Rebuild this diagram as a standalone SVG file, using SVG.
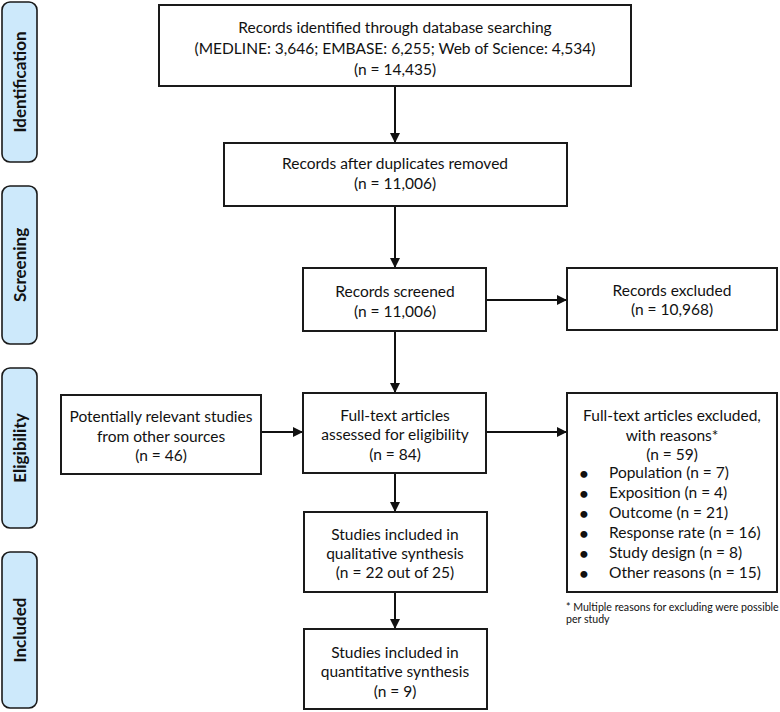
<svg xmlns="http://www.w3.org/2000/svg" width="780" height="712" viewBox="0 0 780 712">
<style>
.box{fill:#ffffff;stroke:#1a1a1a;stroke-width:2}
.lab{fill:#cde9fb;stroke:#1a1a1a;stroke-width:1.6}
.t{font-family:Lato,"Liberation Sans",sans-serif;font-size:15.5px;fill:#111;text-anchor:middle}
.tl{font-family:Lato,"Liberation Sans",sans-serif;font-size:15.5px;fill:#111;text-anchor:start}
.b{font-family:Lato,"Liberation Sans",sans-serif;font-size:16px;font-weight:bold;fill:#111;text-anchor:middle}
.lt{font-family:Lato,"Liberation Sans",sans-serif;font-size:17px;font-weight:bold;fill:#111;text-anchor:middle}
.fn{font-family:Lato,"Liberation Sans",sans-serif;font-size:10.6px;fill:#111}
.c{stroke:#111;stroke-width:2;fill:none}
</style>
<defs>
<marker id="ah" markerWidth="10" markerHeight="10" viewBox="0 0 10 10" refX="10" refY="5" orient="auto" markerUnits="userSpaceOnUse">
<path d="M0,0 L10,5 L0,10 z" fill="#111"/>
</marker>
</defs>
<rect width="780" height="712" fill="#ffffff"/>

<g id="lab-identification"><rect class="lab" x="2" y="2" width="35" height="160" rx="8"/><text class="lt" transform="translate(25.5,82) rotate(-90)">Identification</text></g>
<g id="lab-screening"><rect class="lab" x="2" y="186" width="35" height="158" rx="8"/><text class="lt" transform="translate(25.5,265) rotate(-90)">Screening</text></g>
<g id="lab-eligibility"><rect class="lab" x="2" y="368" width="35" height="160" rx="8"/><text class="lt" transform="translate(25.5,448) rotate(-90)">Eligibility</text></g>
<g id="lab-included"><rect class="lab" x="2" y="552" width="35" height="156" rx="8"/><text class="lt" transform="translate(25.5,630) rotate(-90)">Included</text></g>

<g id="connectors">
<line class="c" x1="395" y1="86" x2="395" y2="143" marker-end="url(#ah)"/>
<line class="c" x1="395" y1="206" x2="395" y2="268" marker-end="url(#ah)"/>
<line class="c" x1="395" y1="331" x2="395" y2="393" marker-end="url(#ah)"/>
<line class="c" x1="395" y1="473" x2="395" y2="512" marker-end="url(#ah)"/>
<line class="c" x1="395" y1="592" x2="395" y2="629" marker-end="url(#ah)"/>
<line class="c" x1="486" y1="300" x2="567" y2="300" marker-end="url(#ah)"/>
<line class="c" x1="261" y1="432" x2="303" y2="432" marker-end="url(#ah)"/>
<line class="c" x1="486" y1="432" x2="567" y2="432" marker-end="url(#ah)"/>
</g>

<g id="identified"><rect class="box" x="159" y="5" width="472" height="81"/>
<text class="t" x="395" y="33">Records identified through database searching</text>
<text class="t" x="395" y="54">(MEDLINE: 3,646; EMBASE: 6,255; Web of Science: 4,534)</text>
<text class="t" x="395" y="75">(n = 14,435)</text></g>

<g id="dedup"><rect class="box" x="224" y="143" width="343" height="63"/>
<text class="t" x="395" y="169">Records after duplicates removed</text>
<text class="t" x="395" y="189">(n = 11,006)</text></g>

<g id="screened"><rect class="box" x="303" y="268" width="183" height="63"/>
<text class="t" x="395" y="297">Records screened</text>
<text class="t" x="395" y="317">(n = 11,006)</text></g>

<g id="excluded"><rect class="box" x="567" y="268" width="210" height="62"/>
<text class="t" x="672" y="296">Records excluded</text>
<text class="t" x="672" y="315">(n = 10,968)</text></g>

<g id="other"><rect class="box" x="61" y="395" width="200" height="79"/>
<text class="t" x="161" y="422">Potentially relevant studies</text>
<text class="t" x="161" y="442">from other sources</text>
<text class="t" x="161" y="461">(n = 46)</text></g>

<g id="fulltext"><rect class="box" x="303" y="393" width="183" height="80"/>
<text class="t" x="395" y="421">Full-text articles</text>
<text class="t" x="395" y="440">assessed for eligibility</text>
<text class="t" x="395" y="460">(n = 84)</text></g>

<g id="ft-excluded"><rect class="box" x="567" y="393" width="210" height="199"/>
<text class="t" x="672" y="421">Full-text articles excluded,</text>
<text class="t" x="672" y="441">with reasons*</text>
<text class="t" x="672" y="460">(n = 59)</text>
<text class="b" x="584" y="479">•</text><text class="tl" x="609" y="478">Population (n = 7)</text>
<text class="b" x="584" y="499">•</text><text class="tl" x="609" y="498">Exposition (n = 4)</text>
<text class="b" x="584" y="519">•</text><text class="tl" x="609" y="518">Outcome (n = 21)</text>
<text class="b" x="584" y="539">•</text><text class="tl" x="609" y="538">Response rate (n = 16)</text>
<text class="b" x="584" y="559">•</text><text class="tl" x="609" y="558">Study design (n = 8)</text>
<text class="b" x="584" y="579">•</text><text class="tl" x="609" y="578">Other reasons (n = 15)</text></g>

<g id="footnote">
<text class="fn" x="566" y="611">* Multiple reasons for excluding were possible</text>
<text class="fn" x="566" y="623">per study</text></g>

<g id="qualitative"><rect class="box" x="304" y="512" width="183" height="80"/>
<text class="t" x="395" y="540">Studies included in</text>
<text class="t" x="395" y="559">qualitative synthesis</text>
<text class="t" x="395" y="578">(n = 22 out of 25)</text></g>

<g id="quantitative"><rect class="box" x="304" y="629" width="183" height="80"/>
<text class="t" x="395" y="658">Studies included in</text>
<text class="t" x="395" y="677">quantitative synthesis</text>
<text class="t" x="395" y="697">(n = 9)</text></g>
</svg>
